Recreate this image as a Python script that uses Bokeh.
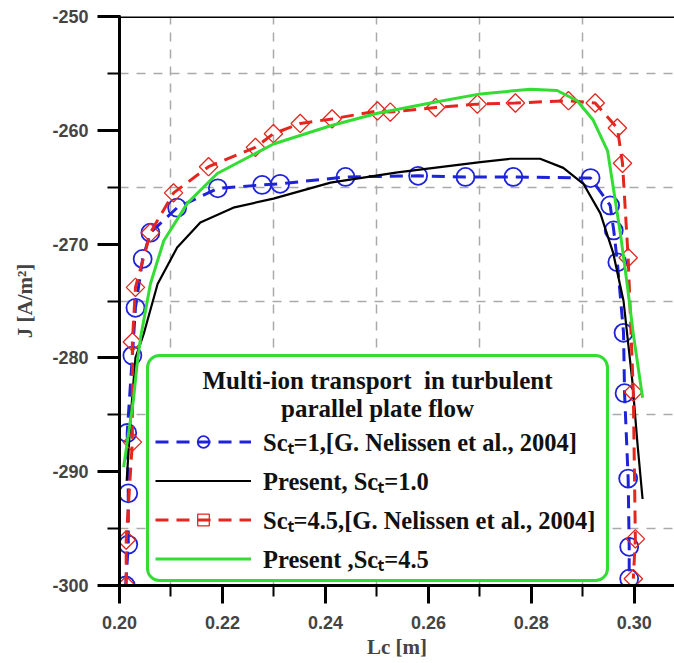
import numpy as np
from bokeh.plotting import figure
from bokeh.models import (Range1d, SingleIntervalTicker, FixedTicker, Legend, Span, Grid,
                          LinearAxis, LegendItem, BoxAnnotation, Label, PrintfTickFormatter)
from bokeh.embed import file_html
from bokeh.resources import INLINE

# ---- data ----
# Sc_t = 1, G. Nelissen et al., 2004 (blue circles)
nel1_x = [0.2012, 0.2017, 0.2017, 0.2015, 0.2025, 0.2031, 0.2045, 0.2060, 0.2112, 0.2191,
          0.2277, 0.2312, 0.2439, 0.2580, 0.2672, 0.2765, 0.2915, 0.2953, 0.2960, 0.2967,
          0.2979, 0.2981, 0.2988, 0.2990, 0.2990]
nel1_y = [-300.0, -296.4, -291.9, -286.6, -279.8, -275.6, -271.3, -269.0, -266.8, -265.1,
          -264.8, -264.7, -264.1, -264.0, -264.1, -264.1, -264.2, -266.6, -268.8, -271.6,
          -277.8, -283.1, -290.6, -296.6, -299.4]

# Present, Sc_t = 1.0 (black)
pres1_x = [0.2014, 0.2022, 0.2031, 0.2047, 0.2074, 0.2112, 0.2157, 0.2221, 0.2299, 0.2410,
           0.2540, 0.2701, 0.2759, 0.2817, 0.2862, 0.2901, 0.2934, 0.2959, 0.2979, 0.2996,
           0.3006, 0.3016]
pres1_y = [-290.8, -285.0, -280.0, -277.9, -273.5, -270.3, -268.1, -266.8, -266.0, -264.6,
           -263.7, -262.8, -262.5, -262.5, -263.3, -264.7, -267.3, -270.8, -275.0, -282.0,
           -287.5, -292.4]

# Sc_t = 4.5, G. Nelissen et al., 2004 (red diamonds)
nel45_x = [0.2013, 0.2013, 0.2025, 0.2025, 0.2031, 0.2060, 0.2105, 0.2173, 0.2264, 0.2299,
           0.2351, 0.2413, 0.2501, 0.2526, 0.2614, 0.2695, 0.2769, 0.2872, 0.2924, 0.2967,
           0.2977, 0.2988, 0.2998, 0.3002, 0.2998]
nel45_y = [-300.0, -296.0, -287.4, -278.6, -273.8, -269.0, -265.5, -263.2, -261.5, -260.3,
           -259.4, -259.0, -258.3, -258.4, -258.0, -257.7, -257.6, -257.4, -257.6, -259.8,
           -262.9, -271.2, -283.0, -295.9, -299.4]

# Present, Sc_t = 4.5 (green)
pres45_x = [0.2008, 0.2027, 0.2035, 0.2041, 0.2060, 0.2086, 0.2132, 0.2190, 0.2299, 0.2410,
            0.2501, 0.2604, 0.2701, 0.2798, 0.2850, 0.2889, 0.2920, 0.2948, 0.2959, 0.2973,
            0.2986, 0.2998, 0.3016]
pres45_y = [-289.6, -283.7, -280.2, -278.2, -273.5, -269.7, -266.4, -263.8, -261.2, -259.6,
            -258.5, -257.6, -256.8, -256.4, -256.5, -257.4, -259.1, -261.8, -265.0, -269.1,
            -273.5, -277.9, -283.5]

legend_title = ["Multi-ion transport\u00a0 in turbulent", "parallel plate flow"]
legend_labels = ["Sc\u209c=1,[G. Nelissen et al., 2004]",
                 "Present, Sc\u209c=1.0",
                 "Sc\u209c=4.5,[G. Nelissen et al., 2004]",
                 "Present ,Sc\u209c=4.5"]
x_label = "Lc [m]"
y_label = "J [A/m\u00b2]"

# ---- styling ----
BLUE = "#1e22d8"
RED = "#e4261e"
GREEN = "#33dd33"
GRID = "#aaaaaa"
SERIF = "Liberation Serif"
SANS = "Liberation Sans"

W, H = 674, 663
p = figure(width=W, height=H, output_backend="svg", toolbar_location=None,
           x_axis_type=None, y_axis_type=None,
           x_range=Range1d(0.20, 0.3078), y_range=Range1d(-300, -250),
           min_border_left=119, min_border_right=0, min_border_top=16, min_border_bottom=78)
p.outline_line_color = None
p.background_fill_color = "white"
p.border_fill_color = "white"

common = dict(axis_line_width=3, axis_line_color="black",
              major_tick_line_color="black", minor_tick_line_color="black",
              major_tick_line_width=3, minor_tick_line_width=2,
              major_tick_in=1, minor_tick_in=1,
              major_label_text_font=SANS, major_label_text_font_style="bold",
              major_label_text_font_size="18px",
              axis_label_text_font=SERIF, axis_label_text_font_style="bold",
              axis_label_text_font_size="21px")

xaxis = LinearAxis(ticker=SingleIntervalTicker(interval=0.02, num_minor_ticks=2),
                   formatter=PrintfTickFormatter(format="%.2f"),
                   major_tick_out=18, minor_tick_out=11, major_label_standoff=12,
                   axis_label=x_label, axis_label_standoff=3, **common)
yaxis = LinearAxis(ticker=SingleIntervalTicker(interval=10, num_minor_ticks=2),
                   formatter=PrintfTickFormatter(format="%d"),
                   major_tick_out=22, minor_tick_out=12, major_label_standoff=9,
                   axis_label=y_label, axis_label_standoff=12, **common)
p.add_layout(xaxis, "below")
p.add_layout(yaxis, "left")

# grid at the odd (minor) positions only
gx = [float(v) for v in np.round(np.arange(0.21, 0.31, 0.02), 2)]
gy = [float(v) for v in np.arange(-295, -250, 10)]
for dim, ticks in ((0, gx), (1, gy)):
    p.add_layout(Grid(dimension=dim, ticker=FixedTicker(ticks=ticks),
                      grid_line_color=GRID, grid_line_dash="9 8", grid_line_width=1.5),
                 "center")

# top border line of the frame (no right border in the reference)
p.add_layout(Span(location=-250, dimension="width", line_color="black", line_width=3))

# ---- series ----
b_line = p.line(nel1_x, nel1_y, line_color=BLUE, line_width=3, line_dash="13 8")
b_pts = p.scatter(nel1_x, nel1_y, marker="circle", size=18, fill_color=None,
                  line_color=BLUE, line_width=1.8)
k_line = p.line(pres1_x, pres1_y, line_color="black", line_width=2.2)
r_line = p.line(nel45_x, nel45_y, line_color=RED, line_width=3, line_dash="13 8")
r_pts = p.scatter(nel45_x, nel45_y, marker="square", angle=np.pi / 4, size=13,
                  fill_color=None, line_color=RED, line_width=1.3)
g_line = p.line(pres45_x, pres45_y, line_color=GREEN, line_width=3)

# ---- legend ----
FB = 585  # page y of frame bottom (for screen offsets)
box = BoxAnnotation(left=28, right=488, bottom=FB - 580, top=FB - 355,
                    left_units="screen", right_units="screen",
                    bottom_units="screen", top_units="screen",
                    fill_color="white", fill_alpha=1.0,
                    line_color=GREEN, line_width=3, line_alpha=1.0, border_radius=12)
p.add_layout(box)

items = [LegendItem(label=legend_labels[0], renderers=[b_line, b_pts]),
         LegendItem(label=legend_labels[1], renderers=[k_line]),
         LegendItem(label=legend_labels[2], renderers=[r_line, r_pts]),
         LegendItem(label=legend_labels[3], renderers=[g_line])]
legend = Legend(items=items, location=(36, FB - 575), padding=0, margin=0,
                spacing=6, glyph_width=96, glyph_height=29, label_height=29,
                label_standoff=12, border_line_alpha=0, background_fill_alpha=0,
                label_text_font=SERIF, label_text_font_size="24.5px",
                label_text_font_style="bold", label_text_color="#111111")
p.add_layout(legend)

for txt, ypage in zip(legend_title, (380, 408)):
    p.add_layout(Label(x=258, y=FB - ypage, x_units="screen", y_units="screen", text=txt,
                       text_align="center", text_baseline="middle",
                       text_font=SERIF, text_font_style="bold", text_font_size="25px",
                       text_color="#111111"))

open("out.html", "w").write(file_html(p, INLINE))
